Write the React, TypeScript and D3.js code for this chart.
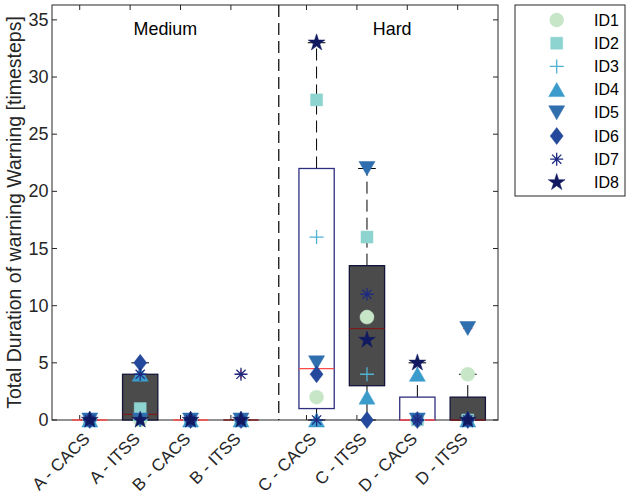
import React from "react";
import * as d3 from "d3";

const categories = ["A - CACS", "A - ITSS", "B - CACS", "B - ITSS", "C - CACS", "C - ITSS", "D - CACS", "D - ITSS"];
const positions = [1, 2, 3, 4, 5.5, 6.5, 7.5, 8.5];
const systems = ["CACS", "ITSS", "CACS", "ITSS", "CACS", "ITSS", "CACS", "ITSS"];
// values per category, ordered ID1..ID8
const valuesACACS = [0, 0, 0, 0, 0, 0, 0, 0];
const valuesAITSS = [0, 1, 0, 4, 0, 5, 4, 0];
const valuesBCACS = [0, 0, 0, 0, 0, 0, 0, 0];
const valuesBITSS = [0, 0, 0, 0, 0, 0, 4, 0];
const valuesCCACS = [2, 28, 16, 0, 5, 4, 0, 33];
const valuesCITSS = [9, 16, 4, 2, 22, 0, 11, 7];
const valuesDCACS = [0, 0, 0, 4, 0, 0, 0, 5];
const valuesDITSS = [4, 0, 0, 0, 8, 0, 0, 0];
const allValues = [valuesACACS, valuesAITSS, valuesBCACS, valuesBITSS, valuesCCACS, valuesCITSS, valuesDCACS, valuesDITSS];

const ids = ["ID1", "ID2", "ID3", "ID4", "ID5", "ID6", "ID7", "ID8"];
const idColors = ["#c7e6c8", "#8dd3cf", "#4eb3d3", "#3b9ccc", "#2f6fae", "#24489b", "#1d2a80", "#111a60"];
const idShapes = ["circle", "square", "plus", "triUp", "triDown", "diamond", "asterisk", "star"];

const yTicks = [0, 5, 10, 15, 20, 25, 30, 35];
const groupLabels = ["Medium", "Hard"];
const groupLabelPos = [2.5, 7];
const dividerPos = 4.75;

const W = 627, H = 497;
const plotLeft = 52, plotRight = 498, plotTop = 5, plotBottom = 420;
const textColor = "#262626";
const font = "'Liberation Sans', Arial, Helvetica, sans-serif";

const x = d3.scaleLinear().domain([0.25, 9.1]).range([plotLeft, plotRight]);
const y = d3.scaleLinear().domain([0, 36.3]).range([plotBottom, plotTop]);

function quantile(sorted: number[], p: number) {
  const n = sorted.length;
  if (p <= 0.5 / n) return sorted[0];
  if (p >= (n - 0.5) / n) return sorted[n - 1];
  const pos = p * n - 0.5;
  const i = Math.floor(pos);
  const f = pos - i;
  return sorted[i] + f * (sorted[i + 1] - sorted[i]);
}

function stats(vals: number[]) {
  const s = [...vals].sort((a, b) => a - b);
  const q1 = quantile(s, 0.25), med = quantile(s, 0.5), q3 = quantile(s, 0.75);
  const iqr = q3 - q1;
  const hiF = q3 + 1.5 * iqr, loF = q1 - 1.5 * iqr;
  const inside = s.filter((v) => v >= loF && v <= hiF);
  const lo = Math.min(q1, d3.min(inside) as number);
  const hi = Math.max(q3, d3.max(inside) as number);
  const outliers = s.filter((v) => v < loF || v > hiF);
  return { q1, med, q3, lo, hi, outliers };
}

const starPath = d3.symbol().type(d3.symbolStar).size(88)() as string;
const circlePath = d3.symbol().type(d3.symbolCircle).size(Math.PI * 49)() as string;

function shapePath(shape: string) {
  switch (shape) {
    case "circle": return circlePath;
    case "square": return "M-6,-6H6V6H-6Z";
    case "plus": return "M-7,0H7M0,-7V7";
    case "triUp": return "M0,-7L8,7L-8,7Z";
    case "triDown": return "M0,7L8,-7L-8,-7Z";
    case "diamond": return "M0,-8.5L6.5,0L0,8.5L-6.5,0Z";
    case "asterisk": return "M-6.5,0H6.5M0,-6.5V6.5M-4.6,-4.6L4.6,4.6M-4.6,4.6L4.6,-4.6";
    default: return starPath;
  }
}

function Marker({ shape, color, cx, cy }: { shape: string; color: string; cx: number; cy: number }) {
  const stroked = shape === "plus" || shape === "asterisk";
  return (
    <path
      d={shapePath(shape)}
      transform={`translate(${cx},${cy})`}
      fill={stroked ? "none" : color}
      stroke={color}
      strokeWidth={stroked ? 1.3 : 0.5}
    />
  );
}

export default function App() {
  const boxHalf = 0.35, capHalf = 0.175;
  return (
    <svg width={W} height={H} style={{ position: "absolute", left: 0, top: 0, background: "#fff" }} fontFamily={font}>
      <rect width={W} height={H} fill="#fff" />
      {/* axes box */}
      <rect x={plotLeft} y={plotTop} width={plotRight - plotLeft} height={plotBottom - plotTop} fill="#fff" stroke={textColor} strokeWidth={1} />
      {/* y ticks */}
      {yTicks.map((t) => (
        <g key={t}>
          <line x1={plotLeft} x2={plotLeft + 5} y1={y(t)} y2={y(t)} stroke={textColor} />
          <line x1={plotRight} x2={plotRight - 5} y1={y(t)} y2={y(t)} stroke={textColor} />
          <text x={plotLeft - 3.5} y={y(t)} textAnchor="end" dominantBaseline="central" fontSize={18} fill={textColor}>{t}</text>
        </g>
      ))}
      {/* x ticks */}
      {positions.map((p, i) => (
        <g key={i}>
          <line x1={x(p - 0.2)} x2={x(p - 0.2)} y1={plotBottom} y2={plotBottom - 5} stroke={textColor} />
          <line x1={x(p - 0.2)} x2={x(p - 0.2)} y1={plotTop} y2={plotTop + 5} stroke={textColor} />
          <text transform={`translate(${x(p) - 3},${436}) rotate(-45)`} textAnchor="end" dominantBaseline="central" fontSize={17} fill={textColor}>{categories[i]}</text>
        </g>
      ))}
      {/* y label */}
      <text transform={`translate(21,${(plotTop + plotBottom) / 2}) rotate(-90)`} textAnchor="middle" fontSize={19.5} fill={textColor}>
        Total Duration of warning Warning [timesteps]
      </text>
      {/* divider */}
      <line x1={x(dividerPos)} x2={x(dividerPos)} y1={plotTop} y2={plotBottom} stroke="#000" strokeWidth={1.2} strokeDasharray="12,6" />
      {groupLabels.map((g, i) => (
        <text key={g} x={x(groupLabelPos[i])} y={y(33.7)} textAnchor="middle" fontSize={17.9} fill="#000">{g}</text>
      ))}
      {/* boxes */}
      {allValues.map((vals, i) => {
        const st = stats(vals);
        const p = positions[i];
        const itss = systems[i] === "ITSS";
        const x0 = x(p - boxHalf), x1 = x(p + boxHalf);
        return (
          <g key={i}>
            <line x1={x(p)} x2={x(p)} y1={y(st.q3)} y2={y(st.hi)} stroke="#000" strokeWidth={1} strokeDasharray="12,6" />
            <line x1={x(p)} x2={x(p)} y1={y(st.q1)} y2={y(st.lo)} stroke="#000" strokeWidth={1} strokeDasharray="12,6" />
            <line x1={x(p - capHalf)} x2={x(p + capHalf)} y1={y(st.hi)} y2={y(st.hi)} stroke="#000" strokeWidth={1} />
            <line x1={x(p - capHalf)} x2={x(p + capHalf)} y1={y(st.lo)} y2={y(st.lo)} stroke="#000" strokeWidth={1} />
            <rect x={x0} y={y(st.q3)} width={x1 - x0} height={Math.max(0, y(st.q1) - y(st.q3))}
              fill={itss ? "#4b4b4b" : "#ffffff"} stroke={itss ? "#14143a" : "#2e2e80"} strokeWidth={1.3} />
            <line x1={x0} x2={x1} y1={y(st.med)} y2={y(st.med)} stroke={itss ? "#7a1c1c" : "#ff4a4a"} strokeWidth={1.3} />
            {st.outliers.map((o, k) => (
              <path key={k} d="M-4.5,0H4.5M0,-4.5V4.5" transform={`translate(${x(p)},${y(o)})`} stroke="#ff0000" strokeWidth={1} />
            ))}
          </g>
        );
      })}
      {/* markers */}
      {allValues.map((vals, i) => (
        <g key={i}>
          {vals.map((v, k) => (
            <Marker key={k} shape={idShapes[k]} color={idColors[k]} cx={x(positions[i])} cy={y(v)} />
          ))}
        </g>
      ))}
      {/* legend */}
      <rect x={515} y={5} width={110} height={191} fill="#fff" stroke={textColor} strokeWidth={1} />
      {ids.map((id, k) => (
        <g key={id} transform={`translate(0,${20 + k * 23.2})`}>
          <Marker shape={idShapes[k]} color={idColors[k]} cx={556.7} cy={0} />
          <text x={594} y={0} dominantBaseline="central" fontSize={16} fill="#000">{id}</text>
        </g>
      ))}
    </svg>
  );
}
